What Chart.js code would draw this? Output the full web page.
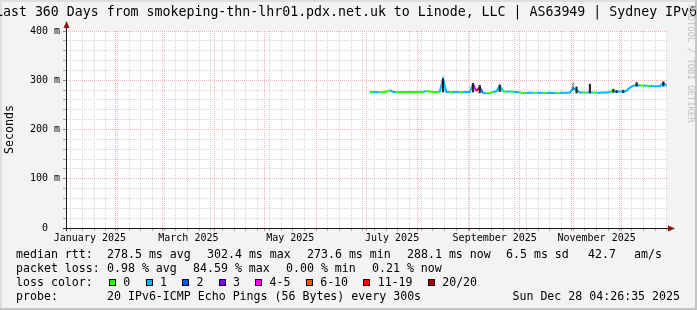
<!DOCTYPE html>
<html>
<head>
<meta charset="utf-8">
<title>Smokeping - Last 360 Days</title>
<script src="https://cdn.jsdelivr.net/npm/chart.js@4.4.1/dist/chart.umd.min.js"></script>
<style>
  html, body { margin:0; padding:0; background:#f3f3f3; }
  #wrap { position:relative; width:697px; height:310px; overflow:hidden; background:#f3f3f3;
          font-family:"DejaVu Sans Mono", monospace; color:#000; }
  .shade { position:absolute; }
  #c { position:absolute; left:0; top:0; }
  #title { position:absolute; left:-5px; top:4px; font-size:13.25px; line-height:16px; white-space:pre; }
  #wm { position:absolute; left:695px; top:5px; transform-origin:0 0; transform:rotate(90deg);
        font-size:8.9px; line-height:9px; color:#c2c2c2; white-space:pre; }
  .row { position:absolute; left:0; width:697px; height:14px; font-size:11.6px; line-height:14px; white-space:pre; }
  .row span { position:absolute; top:0; }
  .row i { position:absolute; width:5px; height:5px; border:1px solid #000; top:4px; }
</style>
</head>
<body>
<div id="wrap">
  <div class="shade" style="left:0;top:0;width:697px;height:2px;background:#dedede"></div>
  <div class="shade" style="left:0;top:0;width:2px;height:310px;background:#dedede"></div>
  <div class="shade" style="right:0;top:0;width:2px;height:310px;background:#c4c4c4"></div>
  <div class="shade" style="left:0;bottom:0;width:697px;height:2px;background:#c4c4c4"></div>
  <canvas id="c" width="697" height="310"></canvas>
  <div id="title">Last 360 Days from smokeping-thn-lhr01.pdx.net.uk to Linode, LLC | AS63949 | Sydney IPv6</div>
  <div id="wm">RRDTOOL / TOBI OETIKER</div>
  <div id="legend"></div>
</div>
<script>
// ---------- time range ----------
const graphEnd = Date.UTC(2025, 11, 28, 4, 26, 35);
const yearStart = Date.UTC(2025, 0, 1);
const DAY = 86400000;
const spanDays = 360;
const xMax = (graphEnd - yearStart) / DAY;
const xMin = xMax - spanDays;

// ---------- data ----------
const firstSampleDay = 183;      // 3 Jul 2025, days since 1 Jan 2025
const sampleStepDays = 2;
const medianRtt = [
  276, 276.5, 275.5, 275.5, 276, 276.5, 280, 276.5, 275.5, 276,
  276, 276, 276, 276, 276, 276.5, 276, 278, 277, 276,
  276, 276, 302.4, 276, 276, 276, 276, 276, 276, 276,
  276, 292, 278, 286, 274, 273.6, 273.8, 276, 277.5, 289,
  277, 277, 277, 276.5, 276, 275, 274, 274, 274.5, 274.5,
  274.5, 274.5, 274.5, 274, 274.5, 274, 274.5, 274, 274.5, 274.5,
  274.5, 284, 280, 275, 275, 275, 275, 275, 274.5, 274.5,
  275, 275, 276, 280, 276, 277.5, 276, 279, 285, 289,
  290.5, 289.5, 289.5, 289, 288.5, 288, 288, 288, 295, 288.1
];
const lossPings = [
  1, 0, 1, 1, 0, 0, 0, 1, 1, 0,
  0, 0, 0, 0, 0, 0, 0, 1, 0, 0,
  0, 0, 1, 1, 1, 0, 1, 1, 0, 1,
  1, 1, 4, 12, 2, 1, 0, 0, 1, 1,
  1, 0, 1, 0, 1, 1, 0, 0, 1, 1,
  0, 1, 1, 0, 1, 1, 1, 0, 1, 1,
  1, 1, 1, 1, 1, 0, 1, 1, 0, 1,
  1, 1, 1, 0, 1, 1, 1, 1, 1, 1,
  1, 1, 0, 1, 0, 1, 1, 1, 1, 1
];
const smokeSample  = [22, 31, 33, 39, 61, 62, 66, 73, 74, 76, 80, 88];
const smokeLow     = [276, 276, 274, 277, 280, 274, 274.5, 275, 275, 275, 288, 288];
const smokeHigh    = [303, 293.5, 290, 290.5, 295, 286.5, 292, 282, 279.5, 280, 295.5, 296.5];
const smokeDensity = [0.9, 0.9, 0.9, 0.9, 0.35, 0.9, 0.9, 0.8, 0.8, 0.8, 0.9, 0.9];

const yTickValues = [0, 100, 200, 300, 400];
const yTickLabels = ['0', '100 m', '200 m', '300 m', '400 m'];
const xTickLabels = ['January 2025', 'March 2025', 'May 2025', 'July 2025', 'September 2025', 'November 2025'];
const xTickLabelMonths = [0, 2, 4, 6, 8, 10];

const rttStatText  = ['278.5 ms avg', '302.4 ms max', '273.6 ms min', '288.1 ms now', '6.5 ms sd', '42.7'];
const lossStatText = ['0.98 % avg', '84.59 % max', '0.00 % min', '0.21 % now'];
const lossClassLabels = ['0', '1', '2', '3', '4-5', '6-10', '11-19', '20/20'];
const probeText = '20 IPv6-ICMP Echo Pings (56 Bytes) every 300s';
const stampText = 'Sun Dec 28 04:26:35 2025';

// ---------- styles ----------
const lossColors = ['#26ff00', '#00b8ff', '#0059ff', '#7e00ff', '#ff00fe', '#ff5500', '#ff0000', '#a10000'];
const minorGrid = '#d6d6d6';
const majorGrid = '#f5b0b0';
const MONO = '"DejaVu Sans Mono", monospace';

function lossBin(p) {
  if (p <= 3) return p;
  if (p <= 5) return 4;
  if (p <= 10) return 5;
  if (p <= 19) return 6;
  return 7;
}
function lossColor(p) { return lossColors[lossBin(p)]; }
function sampleDay(i) { return firstSampleDay + i * sampleStepDays; }

// ---------- calendar ticks ----------
function monthStart(m) { return (Date.UTC(2025, m, 1) - yearStart) / DAY; }
function buildTimeTicks(scale) {
  const t = [];
  let d = Math.ceil(xMin);
  while (new Date(yearStart + d * DAY).getUTCDay() !== 0) d++;
  for (; d <= xMax; d += 7) t.push({ value: d, kind: 'minor' });
  for (let m = 0; m < 12; m++) {
    const s = monthStart(m);
    if (s >= xMin && s <= xMax) t.push({ value: s, kind: 'major' });
  }
  xTickLabelMonths.forEach((m, k) => {
    const mid = (monthStart(m) + monthStart(m + 1)) / 2;
    t.push({ value: mid, kind: 'label', text: xTickLabels[k] });
  });
  scale.ticks = t;
}

// ---------- datasets ----------
const medianPoints = medianRtt.map((v, i) => ({ x: sampleDay(i), y: v }));
const smokeBars = smokeSample.map((idx, k) => ({ x: sampleDay(idx), y: [smokeLow[k], smokeHigh[k]] }));

const rrdPlugin = {
  id: 'rrdFrame',
  beforeDraw(chart) {
    const { ctx, chartArea: a } = chart;
    ctx.save();
    ctx.fillStyle = '#ffffff';
    ctx.fillRect(a.left, a.top, a.right - a.left, a.bottom - a.top);
    ctx.restore();
  },
  afterDraw(chart) {
    const { ctx, chartArea: a } = chart;
    const x0 = a.left + 0.5, y0 = a.bottom + 0.5;
    ctx.save();
    ctx.strokeStyle = '#1a1a1a';
    ctx.lineWidth = 1;
    ctx.beginPath();
    ctx.moveTo(a.left - 3, y0); ctx.lineTo(a.right + 3, y0);
    ctx.moveTo(x0, a.bottom + 3); ctx.lineTo(x0, a.top - 4);
    ctx.stroke();
    ctx.fillStyle = '#8b1010';
    ctx.beginPath();
    ctx.moveTo(x0, a.top - 10); ctx.lineTo(x0 - 3, a.top - 3); ctx.lineTo(x0 + 3, a.top - 3); ctx.closePath();
    ctx.fill();
    ctx.beginPath();
    ctx.moveTo(a.right + 8, y0); ctx.lineTo(a.right + 1, y0 - 3); ctx.lineTo(a.right + 1, y0 + 3); ctx.closePath();
    ctx.fill();
    ctx.restore();
  }
};

new Chart(document.getElementById('c'), {
  type: 'line',
  data: {
    datasets: [
      {
        type: 'line',
        label: 'median rtt',
        data: medianPoints,
        borderWidth: 2,
        pointRadius: 0,
        tension: 0,
        borderColor: lossColor(lossPings[0]),
        segment: { borderColor: ctx => lossColor(lossPings[ctx.p1DataIndex]) },
        order: 2
      },
      {
        type: 'bar',
        label: 'smoke',
        data: smokeBars,
        backgroundColor: ctx => 'rgba(20,20,20,' + (smokeDensity[ctx.dataIndex] || 0.9) + ')',
        barThickness: 1.5,
        grouped: false,
        borderWidth: 0,
        order: 1
      }
    ]
  },
  plugins: [rrdPlugin],
  options: {
    responsive: false,
    animation: false,
    devicePixelRatio: 1,
    events: [],
    layout: { padding: { left: 0, right: 30, top: 31, bottom: 62 } },
    plugins: { legend: { display: false }, tooltip: { enabled: false }, title: { display: false } },
    scales: {
      x: {
        type: 'linear',
        min: xMin,
        max: xMax,
        offset: false,
        afterBuildTicks: buildTimeTicks,
        afterFit: s => { s.height = 20; },
        ticks: {
          autoSkip: false, maxRotation: 0, minRotation: 0, padding: 1, color: '#000',
          font: { family: MONO, size: 10 },
          callback: (v, i, ticks) => (ticks[i] && ticks[i].text) || ''
        },
        grid: {
          offset: false, lineWidth: 1, tickLength: 3,
          color: c => !c.tick ? minorGrid : c.tick.kind === 'major' ? majorGrid : c.tick.kind === 'label' ? 'rgba(0,0,0,0)' : minorGrid,
          tickColor: c => !c.tick ? '#aaa' : c.tick.kind === 'major' ? '#e88080' : c.tick.kind === 'label' ? 'rgba(0,0,0,0)' : '#b0b0b0'
        },
        border: { display: false, dash: [1, 1] }
      },
      y: {
        type: 'linear',
        min: 0,
        max: 400,
        afterFit: s => { s.width = 66; },
        ticks: {
          stepSize: 20, autoSkip: false, padding: 3, color: '#000',
          font: { family: MONO, size: 10 },
          callback: v => {
            const k = yTickValues.indexOf(v);
            if (k < 0) return '';
            const lab = yTickLabels[k];
            return lab.indexOf(' ') >= 0 ? lab : lab + '  ';
          }
        },
        grid: {
          lineWidth: 1, tickLength: 3,
          color: c => (c.tick && c.tick.value % 100 === 0) ? majorGrid : minorGrid,
          tickColor: c => (c.tick && c.tick.value % 100 === 0) ? '#888' : '#aaa'
        },
        border: { display: false, dash: [1, 1] },
        title: {
          display: true, text: 'Seconds', color: '#000',
          font: { family: MONO, size: 11.6 },
          padding: { top: 3, bottom: 0 }
        }
      }
    }
  }
});

// ---------- legend block (text) ----------
(function buildLegend() {
  const CH = 6.98;
  const leg = document.getElementById('legend');
  function row(top) {
    const r = document.createElement('div');
    r.className = 'row'; r.style.top = top + 'px';
    leg.appendChild(r); return r;
  }
  function txt(r, x, s, right) {
    const e = document.createElement('span');
    e.textContent = s;
    if (right !== undefined) e.style.right = right + 'px'; else e.style.left = x + 'px';
    r.appendChild(e); return e;
  }
  const r1 = row(247);
  txt(r1, 16, 'median rtt:');
  const rttX = [107, 207, 307, 407, 506, 588];
  rttStatText.forEach((s, k) => txt(r1, rttX[k], s));
  txt(r1, 634, 'am/s');

  const r2 = row(261);
  txt(r2, 16, 'packet loss:');
  const lossX = [107, 193, 286, 372];
  lossStatText.forEach((s, k) => txt(r2, lossX[k], s));

  const r3 = row(275);
  txt(r3, 16, 'loss color:');
  let bx = 109;
  lossClassLabels.forEach((s, k) => {
    const b = document.createElement('i');
    b.style.left = bx + 'px';
    b.style.background = lossColors[k];
    r3.appendChild(b);
    const lx = bx + 14.3;
    txt(r3, lx, s);
    bx = lx + s.length * CH + 15.3;
  });

  const r4 = row(289);
  txt(r4, 16, 'probe:');
  txt(r4, 107, probeText);
  txt(r4, 0, stampText, 17);
})();
</script>
</body>
</html>
